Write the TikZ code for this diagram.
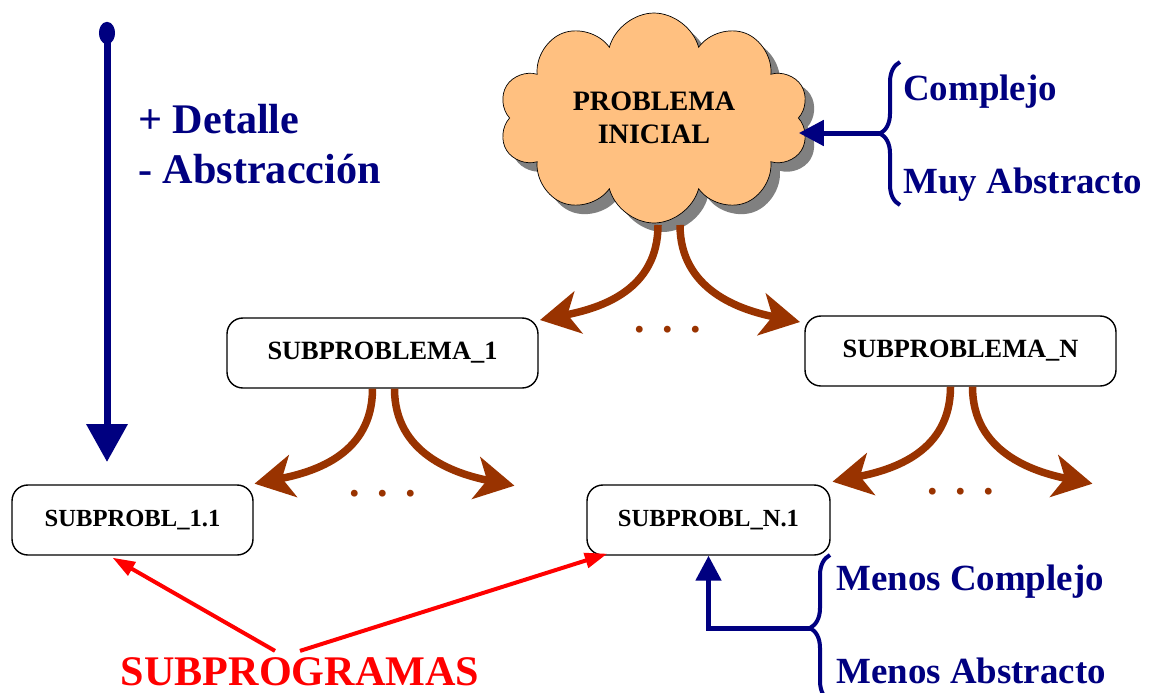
\documentclass[tikz,border=0pt]{standalone}
\usepackage{fontspec}
\setmainfont{Liberation Serif}
\usepackage{tikz}
\usetikzlibrary{arrows.meta, positioning, calc, shapes.symbols, shadows, decorations.pathreplacing}
\definecolor{navy}{RGB}{0,0,128}
\definecolor{rust}{RGB}{153,51,0}
\definecolor{cloudfill}{RGB}{255,192,128}
\definecolor{shade}{RGB}{128,128,128}

\begin{document}
\begin{tikzpicture}[
    x=0.02cm,
    y=-0.02cm,
    >=Stealth,
    task/.style={draw, rounded corners=9pt, line width=0.8pt, minimum height=1.4cm, inner sep=0pt},
    split/.style={draw=rust, line width=0.15cm, -{Stealth[length=0.78cm, width=0.85cm, inset=0.22cm]}},
    dots/.style={text=rust, font=\bfseries\fontsize{24}{24}\selectfont},
    bluetext/.style={text=navy, font=\bfseries\fontsize{21}{24}\selectfont, anchor=base west, inner sep=0pt},
    bracket/.style={draw=navy, line width=0.08cm, decorate, decoration={brace, amplitude=0.4cm}},
    blarrow/.style={draw=navy, line width=0.1cm, -{Triangle[length=0.5cm, width=0.5cm]}},
    subarrow/.style={draw=red, line width=0.08cm, -{Triangle[length=0.45cm, width=0.3cm]}}
]
\useasboundingbox (0,0) rectangle (1153,693);
% Detail axis
\coordinate (top) at (107,22);
\coordinate (bottom) at (107,462);
\draw[navy, line width=0.14cm, {Ellipse[length=0.44cm, width=0.32cm]}-{Triangle[length=0.76cm, width=0.8cm]}] (top) -- (bottom);
\node[text=navy, font=\bfseries\fontsize{24}{28}\selectfont, align=left, anchor=base west, inner sep=0pt] (gain) at (138,183) {+ Detalle\\- Abstracción};
% Problem and subproblems
\node[cloud, cloud puffs=10, cloud ignores aspect, minimum width=6.2cm, minimum height=4.2cm, draw, fill=cloudfill,
      drop shadow={shadow xshift=0.18cm, shadow yshift=-0.18cm, fill=shade, opacity=1, fill opacity=1}, align=center,
      font=\bfseries\fontsize{16}{19}\selectfont] (cloud) at (654,118) {PROBLEMA\\INICIAL};
\coordinate (cloudfoot) at (668,225);
\node[task, minimum width=6.22cm, font=\bfseries\fontsize{15}{18}\selectfont] (box1) at (382.5,353) {SUBPROBLEMA\_1};
\node[task, minimum width=6.22cm, font=\bfseries\fontsize{15}{18}\selectfont] (boxN) at (960.5,351) {SUBPROBLEMA\_N};
\node[task, minimum width=4.82cm, font=\bfseries\fontsize{14}{17}\selectfont] (sub11) at (132.5,520) {SUBPROBL\_1.1};
\node[task, minimum width=4.86cm, font=\bfseries\fontsize{14}{17}\selectfont] (subN1) at (708.5,520) {SUBPROBL\_N.1};
% Splitting arrows
\foreach \src/\tag in {cloudfoot/a, box1.south/b, boxN.south/c} {
    \coordinate (L\tag) at ($(\src)+(-10,0)$);
    \coordinate (R\tag) at ($(\src)+(12,0)$);
    \draw[split] (L\tag) .. controls ($(L\tag)+(0,65)$) and ($(L\tag)+(-57,83)$) .. ($(L\tag)+(-118,95)$);
    \draw[split] (R\tag) .. controls ($(R\tag)+(0,65)$) and ($(R\tag)+(60,85)$) .. ($(R\tag)+(120,97)$);
    \node[dots] (dots-\tag) at ($(\src)+(0,105)$) {.\,\ .\,\ .};
}
% Top brace
\draw[bracket] (900,205) -- (900,62);
\coordinate (cbrace) at (882,133);
\draw[blarrow] (cbrace) -- (cbrace -| cloud.east);
\node[bluetext] (complejo) at (903,100) {Complejo};
\node[bluetext] (muyabs) at (903,193) {Muy Abstracto};
% Bottom brace
\draw[bracket] (830,701) -- (830,555);
\coordinate (lbrace) at (812,628);
\draw[blarrow] (lbrace) -| (subN1.south);
\node[bluetext] (menoscomp) at (836,590) {Menos Complejo};
\node[bluetext] (menosabs) at (836,683) {Menos Abstracto};
% Subprograms
\node[text=red, font=\bfseries\fontsize{24}{27}\selectfont, anchor=base] (subprog) at (300,685) {SUBPROGRAMAS};
\draw[subarrow] ($(subprog.north)+(-25,0)$) -- ($(sub11.south)+(-20,2)$);
\draw[subarrow] (subprog.north) -- ($(subN1.south west)+(21,-2)$);
\end{tikzpicture}
\end{document}
